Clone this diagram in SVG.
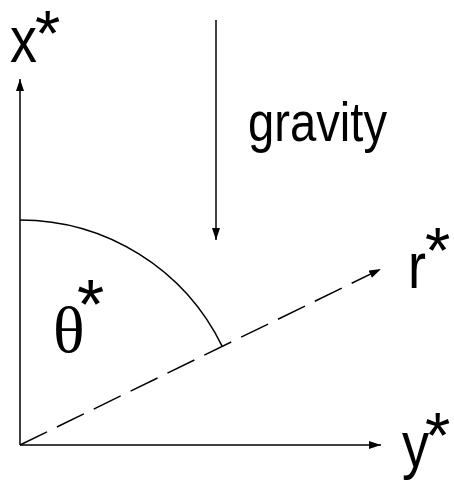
<svg xmlns="http://www.w3.org/2000/svg" width="454" height="482" viewBox="0 0 454 482">
<defs>
<marker id="ah" viewBox="0 0 12 8" refX="12" refY="4" markerWidth="12" markerHeight="8" markerUnits="userSpaceOnUse" orient="auto">
<path d="M0,0 L12,4 L0,8 Z" fill="#000"/>
</marker>
</defs>
<style>
.ln{stroke:#000;stroke-width:1.5;fill:none}
.lbl{font-family:"Liberation Sans",Arial,Helvetica,sans-serif;fill:#000;font-size:65px}
.ser{font-family:"Liberation Serif","Times New Roman",serif;fill:#000}
</style>
<rect width="454" height="482" fill="#fff"/>
<g id="connectors">
<line class="ln" x1="20" y1="445" x2="20" y2="79" marker-end="url(#ah)"/>
<line class="ln" x1="20" y1="445" x2="381" y2="445" marker-end="url(#ah)"/>
<line class="ln" x1="20" y1="445" x2="381" y2="269" stroke-dasharray="30 11" marker-end="url(#ah)"/>
<line class="ln" x1="216" y1="20" x2="216" y2="240" marker-end="url(#ah)"/>
<path class="ln" d="M20,220 A225,225 0 0 1 222.2,346.4"/>
</g>
<g id="label-x"><text class="lbl"><tspan x="10" y="62" textLength="27" lengthAdjust="spacingAndGlyphs">x</tspan><tspan x="35" y="56">*</tspan></text></g>
<g id="label-gravity"><text class="lbl" x="248" y="141" style="font-size:56px" textLength="139" lengthAdjust="spacingAndGlyphs">gravity</text></g>
<g id="label-r"><text class="lbl"><tspan x="408" y="288" textLength="18" lengthAdjust="spacingAndGlyphs">r</tspan><tspan x="425" y="273">*</tspan></text></g>
<g id="label-y"><text class="lbl"><tspan x="402" y="467" textLength="27" lengthAdjust="spacingAndGlyphs">y</tspan><tspan x="425" y="458">*</tspan></text></g>
<g id="label-theta"><text x="53" y="352"><tspan class="ser" font-size="66">θ</tspan><tspan class="lbl" x="77" y="329" style="font-size:70px">*</tspan></text></g>
</svg>
